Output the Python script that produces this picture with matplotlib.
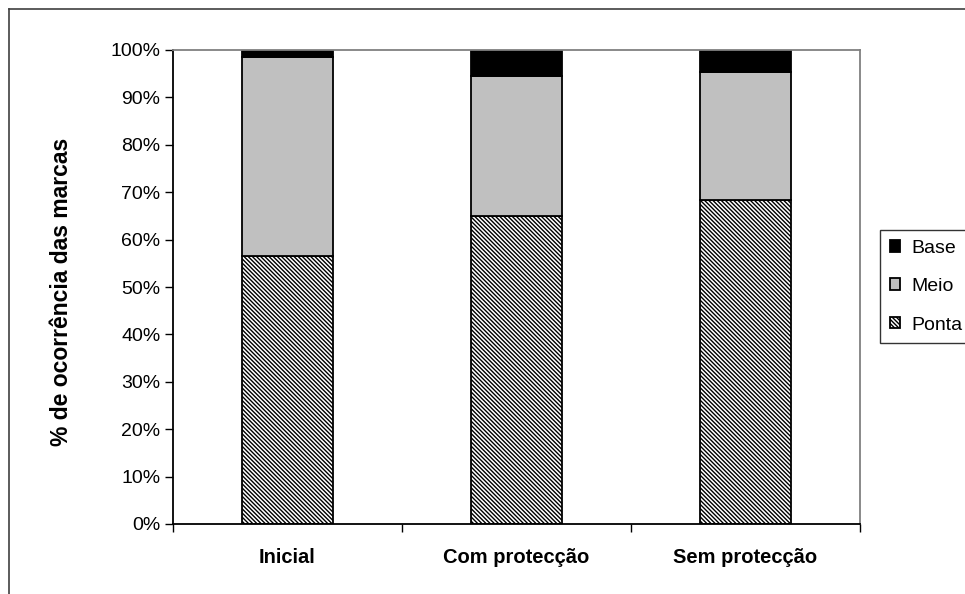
import numpy as np
import matplotlib.pyplot as plt
from matplotlib.lines import Line2D
from matplotlib.ticker import PercentFormatter, FixedLocator

# Dados (% de ocorrência das marcas)
categorias = ['Inicial', 'Com protecção', 'Sem protecção']
ponta = [56.5, 65.0, 68.4]
meio = [42.0, 29.6, 27.0]
base = [1.5, 5.4, 4.6]

plt.rcParams['font.family'] = ['Liberation Sans', 'DejaVu Sans']
plt.rcParams['hatch.linewidth'] = 1.0

fig = plt.figure(figsize=(9.65, 5.94), dpi=100)
ax = fig.add_axes([173 / 965, 1 - 524 / 594, (860 - 173) / 965, (524 - 50) / 594])

x = np.arange(len(categorias))
largura = 0.40
fundo_meio = np.array(ponta)
fundo_base = fundo_meio + np.array(meio)

ax.bar(x, ponta, largura, color='white', edgecolor='black', hatch='\\' * 8,
       linewidth=1.3, label='Ponta')
ax.bar(x, meio, largura, bottom=fundo_meio, color='#c0c0c0', edgecolor='black',
       linewidth=1.3, label='Meio')
ax.bar(x, base, largura, bottom=fundo_base, color='black', edgecolor='black',
       linewidth=1.3, label='Base')

ax.set_xlim(-0.5, len(categorias) - 0.5)
ax.set_ylim(0, 100)
ax.yaxis.set_major_locator(FixedLocator(np.arange(0, 101, 10)))
ax.yaxis.set_major_formatter(PercentFormatter(decimals=0))
ax.set_xticks(x)
ax.set_xticklabels(categorias, fontsize=14.5, fontweight='bold')
ax.xaxis.set_minor_locator(FixedLocator(np.arange(-0.5, len(categorias), 1)))
ax.tick_params(axis='x', which='major', length=0, pad=17)
ax.tick_params(axis='x', which='minor', length=6, direction='out', width=1)
ax.tick_params(axis='y', length=6, width=1, direction='out', labelsize=14, pad=3)

ax.spines['left'].set_color('black')
ax.spines['bottom'].set_color('black')
ax.spines['top'].set_color('#808080')
ax.spines['right'].set_color('#808080')
for s in ax.spines.values():
    s.set_linewidth(1.3)

ax.set_ylabel('% de ocorrência das marcas', fontsize=16.5, fontweight='bold')
ax.yaxis.set_label_coords(-0.145, 0.49)

handles, labels = ax.get_legend_handles_labels()
leg = fig.legend(handles[::-1], labels[::-1], loc='upper left',
                 bbox_to_anchor=(880 / 965, 1 - 230 / 594), fontsize=14,
                 frameon=True, fancybox=False, handlelength=0.55, handleheight=0.55,
                 handletextpad=0.55, labelspacing=1.1, borderpad=0.5,
                 borderaxespad=0)
leg.get_frame().set_edgecolor('black')
leg.get_frame().set_linewidth(1)

# moldura exterior do gráfico
fig.add_artist(Line2D([9 / 965, 9 / 965], [0, 1 - 9 / 594], color='#404040', lw=1.2))
fig.add_artist(Line2D([9 / 965, 1], [1 - 9 / 594, 1 - 9 / 594], color='#404040', lw=1.2))

fig.savefig('out.png', dpi=100)
